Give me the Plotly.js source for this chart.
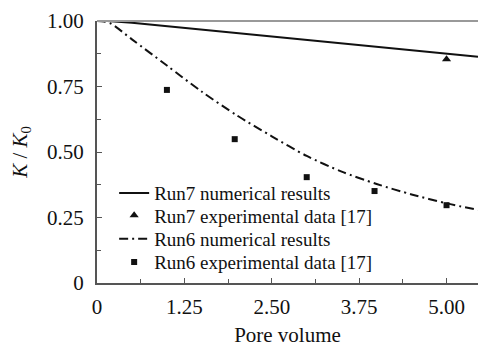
<!DOCTYPE html>
<html>
<head>
<meta charset="utf-8">
<script src="https://cdn.plot.ly/plotly-3.0.1.min.js"></script>
<style>html,body{margin:0;padding:0;background:#fff;}#chart{width:478px;height:347px;}</style>
</head>
<body>
<div id="chart"></div>
<script>
// Run7 numerical results
const run7NumX = [0, 0.15, 0.5, 1.0, 1.5, 2.0, 2.5, 3.0, 3.5, 4.0, 4.5, 5.0, 5.45];
const run7NumY = [1.0, 1.0, 0.993, 0.98, 0.968, 0.955, 0.942, 0.929, 0.916, 0.903, 0.890, 0.877, 0.864];
// Run7 experimental data
const run7ExpX = [5.0];
const run7ExpY = [0.854];
// Run6 numerical results
const run6NumX = [0, 0.1, 0.2, 0.5, 1.0, 1.5, 2.0, 2.5, 3.0, 3.5, 4.0, 4.5, 5.0, 5.45];
const run6NumY = [1.0, 0.998, 0.99, 0.93, 0.83, 0.73, 0.64, 0.56, 0.485, 0.425, 0.378, 0.338, 0.304, 0.279];
// Run6 experimental data
const run6ExpX = [1.0, 1.97, 3.0, 3.97, 5.0];
const run6ExpY = [0.737, 0.549, 0.404, 0.351, 0.297];

const xTickVals = [0, 1.25, 2.5, 3.75, 5.0];
const xTickText = ["0", "1.25", "2.50", "3.75", "5.00"];
const yTickVals = [0, 0.25, 0.5, 0.75, 1.0];
const yTickText = ["0", "0.25", "0.50", "0.75", "1.00"];

const names = ["Run7 numerical results", "Run7 experimental data [17]", "Run6 numerical results", "Run6 experimental data [17]"];

const traces = [
  {x: run7NumX, y: run7NumY, mode: 'lines', name: names[0], legend: 'legend', line: {color: '#111', width: 2}},
  {x: run7ExpX, y: run7ExpY, mode: 'markers', name: names[1], legend: 'legend2', marker: {symbol: 'triangle-up', color: '#111', size: 8}},
  {x: run6NumX, y: run6NumY, mode: 'lines', name: names[2], legend: 'legend3', line: {color: '#111', width: 2, dash: '9px,4px,2px,4px', shape: 'spline', smoothing: 0.8}},
  {x: run6ExpX, y: run6ExpY, mode: 'markers', name: names[3], legend: 'legend4', marker: {symbol: 'square', color: '#111', size: 6}}
];

const font = 'Liberation Serif';

function leg(yPaper) {
  return {
    x: 0.045, y: yPaper, xanchor: 'left', yanchor: 'middle',
    bgcolor: 'rgba(0,0,0,0)', font: {family: font, size: 19, color: '#111'},
    itemwidth: 30, borderwidth: 0
  };
}

const layout = {
  width: 478, height: 347,
  margin: {l: 97, r: 0, t: 21, b: 64},
  paper_bgcolor: '#fff', plot_bgcolor: '#fff',
  font: {family: font, color: '#111', size: 19},
  showlegend: true,
  legend: leg(0.343),
  legend2: leg(0.258),
  legend3: leg(0.168),
  legend4: leg(0.08),
  xaxis: {
    range: [0, 5.45], showgrid: false, zeroline: false,
    showline: true, linecolor: '#555', linewidth: 2,
    ticks: 'inside', ticklen: 5, tickcolor: '#555', tickwidth: 1,
    tickvals: xTickVals, ticktext: xTickText, ticklabelstandoff: 4,
    tickfont: {family: font, size: 21, color: '#111'},
    minor: {tickvals: [0.625, 1.875, 3.125, 4.375], ticks: 'inside', ticklen: 4, tickcolor: '#555'},
    title: {text: 'Pore volume', font: {family: font, size: 21, color: '#111'}, standoff: 16}
  },
  yaxis: {
    range: [0, 1.0], showgrid: false, zeroline: false,
    showline: true, linecolor: '#555', linewidth: 2,
    ticks: 'inside', ticklen: 5, tickcolor: '#555', tickwidth: 1,
    tickvals: yTickVals, ticktext: yTickText, ticklabelstandoff: 7,
    tickfont: {family: font, size: 21, color: '#111'},
    minor: {tickvals: [0.125, 0.375, 0.625, 0.875], ticks: 'inside', ticklen: 4, tickcolor: '#555'},
    title: {text: '<i>K</i> / <i>K</i><sub>0</sub>', font: {family: font, size: 21, color: '#111'}, standoff: 14}
  },
  shapes: [
    {type: 'line', xref: 'paper', yref: 'paper', x0: 0, x1: 1, y0: 1, y1: 1, line: {color: '#999', width: 2}}
  ]
};

Plotly.newPlot('chart', traces, layout, {displayModeBar: false, staticPlot: true});
</script>
</body>
</html>
